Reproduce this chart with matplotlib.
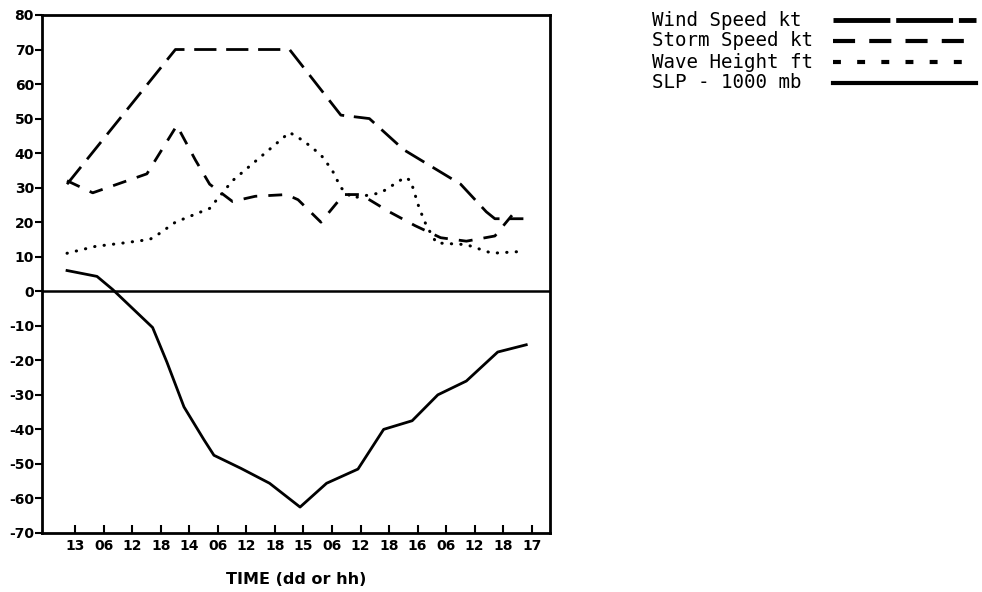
import matplotlib
matplotlib.use("Agg")
import matplotlib.pyplot as plt
from matplotlib.lines import Line2D
import numpy as np


# time axis in 6-hour steps from 13/00Z; the curves sit a little left of the tick marks
TICK_LABELS = ["13", "06", "12", "18", "14", "06", "12", "18", "15",
               "06", "12", "18", "16", "06", "12", "18", "17"]
TICK_SHIFT = 0.29

YTICKS = [-70, -60, -50, -40, -30, -20, -10, 0, 10, 20, 30, 40, 50, 60, 70, 80]

WIND_T = [0, 3.8, 7.8, 9.6, 10.6, 11.8, 13.0, 13.8, 14.7, 15.0, 16.0]
WIND_KT = [31, 70, 70, 51, 50, 41, 35, 31, 23, 21, 21]

STORM_T = [0, 0.9, 2.8, 3.85, 4.5, 5.0, 5.8, 6.6, 7.7, 8.1, 8.9, 9.7, 10.3,
           11.3, 12.2, 13.1, 14.0, 15.0, 15.6]
STORM_KT = [32, 28.5, 34, 48, 38, 31, 26, 27.5, 28, 26.5, 20, 28, 28,
            23, 19, 15.5, 14.5, 16, 22]

WAVE_T = [0, 1.0, 2.0, 2.9, 3.2, 3.8, 5.0, 5.8, 7.8, 8.3, 8.9, 9.3, 9.6, 10.0,
          11.0, 11.85, 12.05, 12.35, 12.6, 12.95, 14.0, 14.9, 15.9]
WAVE_FT = [11, 13, 14, 15, 16.5, 20, 24, 32, 46, 43.5, 39.5, 35, 30, 27,
           28.5, 33, 32, 24, 19, 14, 13.5, 11, 11.5]

SLP_T = [0, 1.05, 1.6, 3.0, 3.5, 4.1, 4.8, 5.15, 6.1, 7.1, 8.17, 9.1, 10.2,
         11.1, 12.1, 13.0, 14.0, 15.1, 16.1]
SLP_MB = [6, 4.3, 0.5, -10.5, -20.5, -33.5, -43, -47.5, -51.3, -55.6, -62.5,
          -55.6, -51.5, -40, -37.5, -30, -26, -17.6, -15.5]

LEGEND_LABELS = ["Wind Speed kt", "Storm Speed kt", "Wave Height ft", "SLP - 1000 mb"]


def legend_row(fig, y_px, label, **line_kw):
    # one text + sample line row of the key, positioned in figure pixels
    W, H = 982, 592
    fig.text(652 / W, 1 - y_px / H, label, ha="left", va="center",
             family="DejaVu Sans Mono", fontsize=13.8)
    fig.add_artist(Line2D([833 / W, 976 / W], [1 - y_px / H] * 2,
                          transform=fig.transFigure, color="black", **line_kw))


def main():
    plt.rcParams.update({
        "font.family": "DejaVu Sans",
        "axes.unicode_minus": False,
    })

    fig = plt.figure(figsize=(9.82, 5.92), dpi=100)
    fig.patch.set_facecolor("white")
    ax = fig.add_axes([0.043, 0.0997, 0.517, 0.875])

    ax.plot(WIND_T, WIND_KT, color="black", lw=2.0, dashes=(8, 3.5))
    ax.plot(STORM_T, STORM_KT, color="black", lw=2.0, dashes=(5, 4))
    ax.plot(WAVE_T, WAVE_FT, color="black", lw=2.2, dashes=(0.1, 3.0),
            dash_capstyle="round")
    ax.plot(SLP_T, SLP_MB, color="black", lw=2.0)
    ax.axhline(0, color="black", lw=1.8)

    ax.set_xlim(-0.87, 16.93)
    ax.set_ylim(-70, 80)
    ax.set_xticks(np.arange(len(TICK_LABELS)) + TICK_SHIFT)
    ax.set_xticklabels(TICK_LABELS, fontweight="bold")
    ax.set_yticks(YTICKS)
    ax.set_yticklabels([str(v) for v in YTICKS], fontweight="bold")
    ax.tick_params(axis="x", direction="in", length=6, width=1.5, pad=4, labelsize=10)
    ax.tick_params(axis="y", direction="out", length=5, width=1.5, pad=1, labelsize=10)
    for side in ax.spines.values():
        side.set_linewidth(2.0)

    ax.set_xlabel("TIME (dd or hh)", fontsize=11.5, fontweight="bold", labelpad=14)

    # key on the right, text first then the line sample
    legend_row(fig, 20, LEGEND_LABELS[0], lw=3.5, dashes=(11.7, 1.2))
    legend_row(fig, 41, LEGEND_LABELS[1], lw=3.0, dashes=(5.3, 3.4))
    legend_row(fig, 62, LEGEND_LABELS[2], lw=3.0, dashes=(1.9, 3.9))
    legend_row(fig, 83, LEGEND_LABELS[3], lw=3.0)

    fig.savefig("out.png", dpi=100)
    plt.close(fig)


if __name__ == "__main__":
    main()
